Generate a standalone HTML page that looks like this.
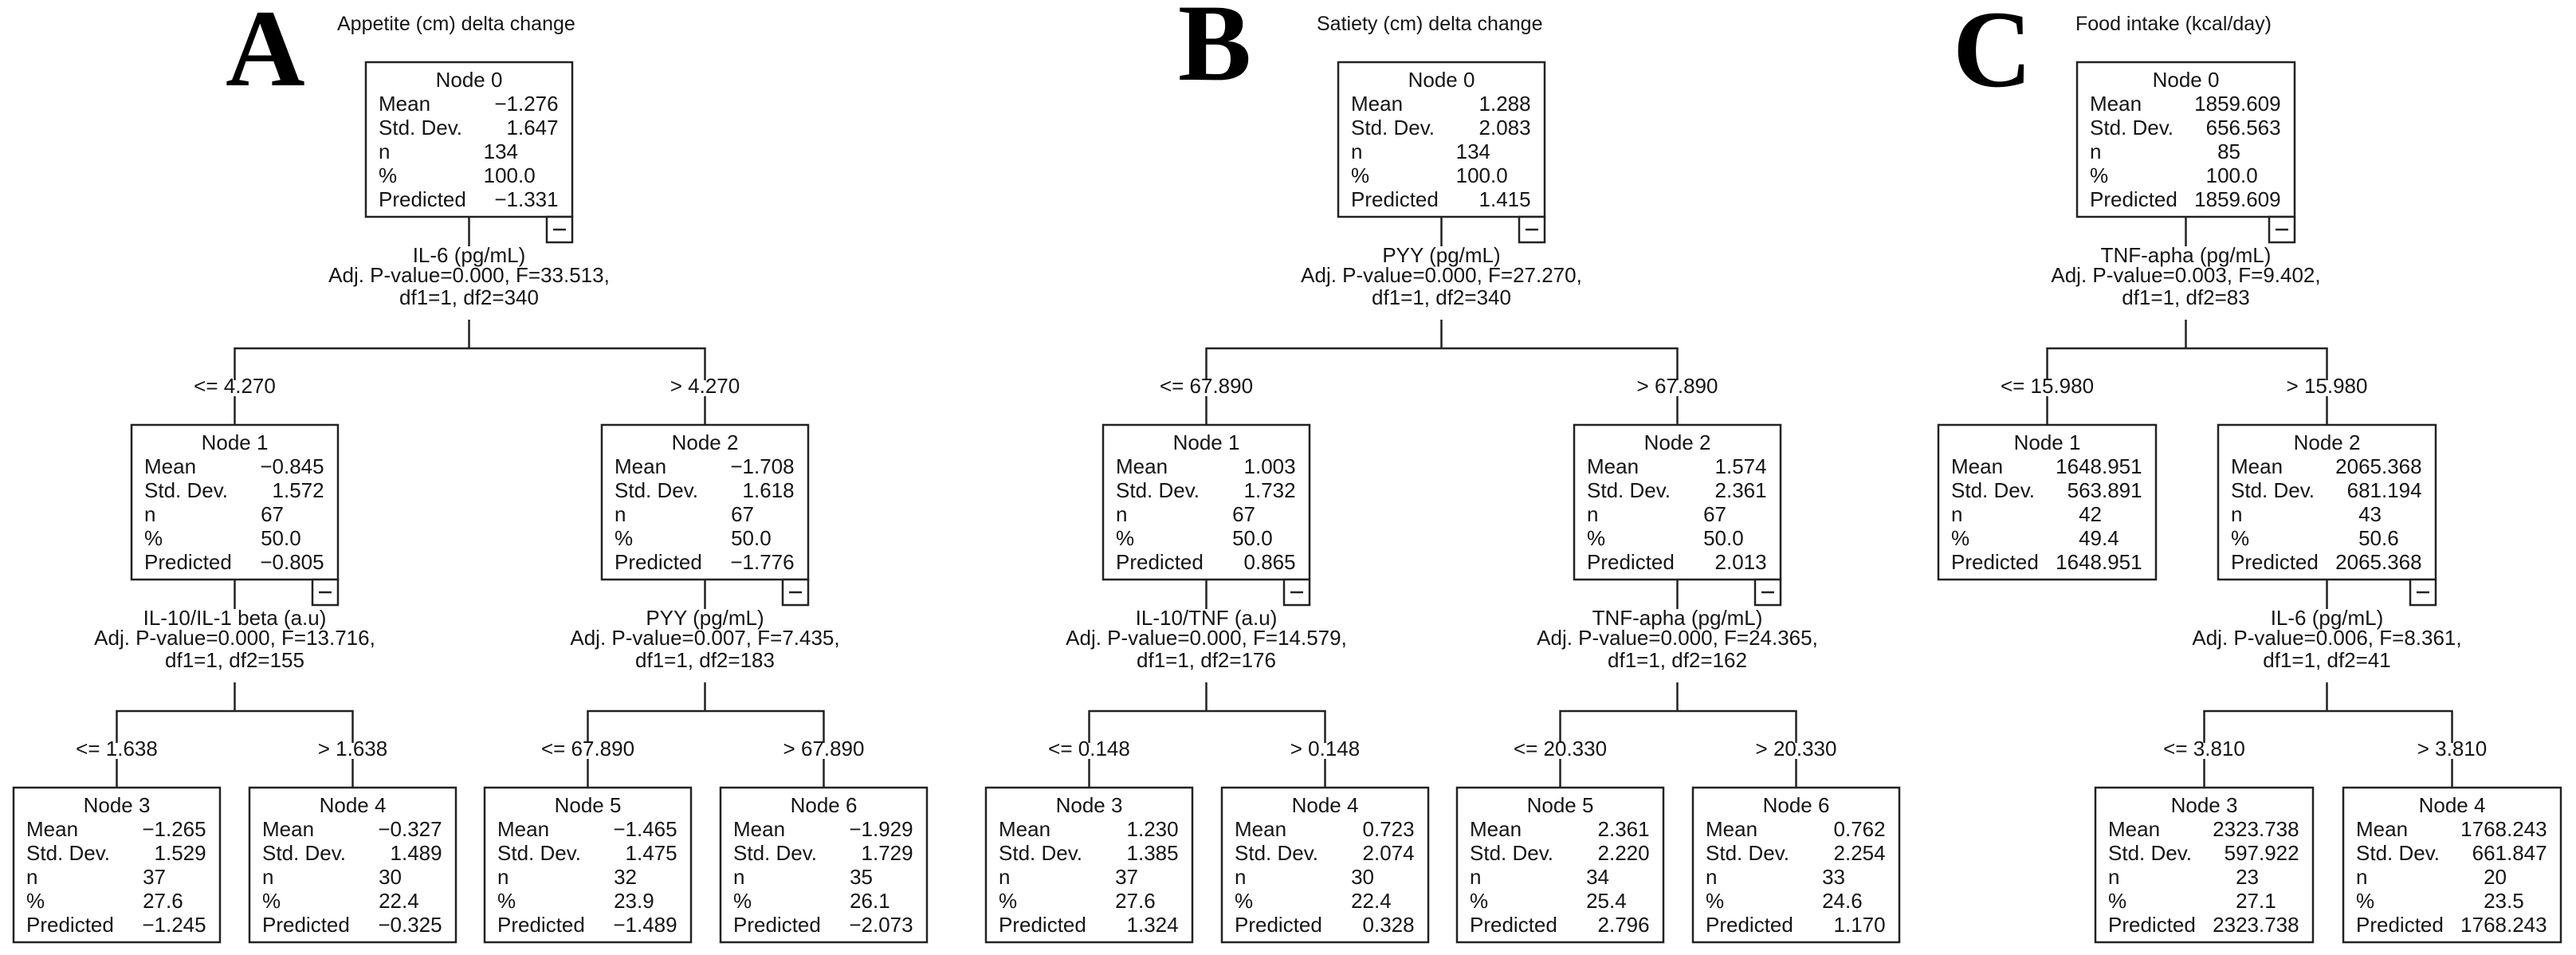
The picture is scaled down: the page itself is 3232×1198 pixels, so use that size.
<!DOCTYPE html>
<html><head><meta charset="utf-8"><style>
html,body{margin:0;padding:0;background:#fff;}
svg{display:block;}
svg text{font-family:"Liberation Sans",sans-serif;font-size:26px;fill:#151515;}
.t{font-size:25px;}
.big{font-family:"Liberation Serif",serif;font-size:138px;font-weight:bold;fill:#000;}
rect{fill:#fff;stroke:#222;stroke-width:2.5;}
path{fill:none;stroke:#222;stroke-width:2.5;}
</style></head><body>
<svg width="3232" height="1198" viewBox="0 0 3232 1198" xmlns="http://www.w3.org/2000/svg">
<rect x="0" y="0" width="3232" height="1198" style="stroke:none;fill:#fff"/>
<text class="big" x="283" y="107">A</text>
<text class="big" x="1478" y="100">B</text>
<text class="big" x="2450" y="108">C</text>
<text class="t" x="423" y="38">Appetite (cm) delta change</text>
<text class="t" x="1652" y="38">Satiety (cm) delta change</text>
<text class="t" x="2604" y="38">Food intake (kcal/day)</text>

<!-- connectors -->
<path d="M588.5 272V309M588.5 401V437M294.5 533V497M294.5 477V437H884.5V477M884.5 497V533"/>
<path d="M294.5 727V764M294.5 856V892M146.5 988V952M146.5 932V892H442.5V932M442.5 952V988"/>
<path d="M884.5 727V764M884.5 856V892M737.5 988V952M737.5 932V892H1033.5V932M1033.5 952V988"/>
<path d="M1808.5 272V309M1808.5 401V437M1513.5 533V497M1513.5 477V437H2104.5V477M2104.5 497V533"/>
<path d="M1513.5 727V764M1513.5 856V892M1366.5 988V952M1366.5 932V892H1662.5V932M1662.5 952V988"/>
<path d="M2104.5 727V764M2104.5 856V892M1957.5 988V952M1957.5 932V892H2253.5V932M2253.5 952V988"/>
<path d="M2742.5 272V309M2742.5 401V437M2568.5 533V497M2568.5 477V437H2919.5V477M2919.5 497V533"/>
<path d="M2919.5 727V764M2919.5 856V892M2765.5 988V952M2765.5 932V892H3076.5V932M3076.5 952V988"/>

<!-- split labels -->
<g text-anchor="middle">
<text x="588.5" y="329">IL-6 (pg/mL)</text><text x="588.5" y="354">Adj. P-value=0.000, F=33.513,</text><text x="588.5" y="382">df1=1, df2=340</text>
<text x="294.5" y="784">IL-10/IL-1 beta (a.u)</text><text x="294.5" y="809">Adj. P-value=0.000, F=13.716,</text><text x="294.5" y="837">df1=1, df2=155</text>
<text x="884.5" y="784">PYY (pg/mL)</text><text x="884.5" y="809">Adj. P-value=0.007, F=7.435,</text><text x="884.5" y="837">df1=1, df2=183</text>
<text x="1808.5" y="329">PYY (pg/mL)</text><text x="1808.5" y="354">Adj. P-value=0.000, F=27.270,</text><text x="1808.5" y="382">df1=1, df2=340</text>
<text x="1513.5" y="784">IL-10/TNF (a.u)</text><text x="1513.5" y="809">Adj. P-value=0.000, F=14.579,</text><text x="1513.5" y="837">df1=1, df2=176</text>
<text x="2104.5" y="784">TNF-apha (pg/mL)</text><text x="2104.5" y="809">Adj. P-value=0.000, F=24.365,</text><text x="2104.5" y="837">df1=1, df2=162</text>
<text x="2742.5" y="329">TNF-apha (pg/mL)</text><text x="2742.5" y="354">Adj. P-value=0.003, F=9.402,</text><text x="2742.5" y="382">df1=1, df2=83</text>
<text x="2919.5" y="784">IL-6 (pg/mL)</text><text x="2919.5" y="809">Adj. P-value=0.006, F=8.361,</text><text x="2919.5" y="837">df1=1, df2=41</text>
<!-- branch labels -->
<text x="294.5" y="493">&lt;= 4.270</text><text x="884.5" y="493">&gt; 4.270</text>
<text x="146.5" y="948">&lt;= 1.638</text><text x="442.5" y="948">&gt; 1.638</text>
<text x="737.5" y="948">&lt;= 67.890</text><text x="1033.5" y="948">&gt; 67.890</text>
<text x="1513.5" y="493">&lt;= 67.890</text><text x="2104.5" y="493">&gt; 67.890</text>
<text x="1366.5" y="948">&lt;= 0.148</text><text x="1662.5" y="948">&gt; 0.148</text>
<text x="1957.5" y="948">&lt;= 20.330</text><text x="2253.5" y="948">&gt; 20.330</text>
<text x="2568.5" y="493">&lt;= 15.980</text><text x="2919.5" y="493">&gt; 15.980</text>
<text x="2765.5" y="948">&lt;= 3.810</text><text x="3076.5" y="948">&gt; 3.810</text>
</g>

<!-- ===== A nodes (w=259, D=191) ===== -->
<g transform="translate(459,78)"><rect width="259" height="194"/><rect x="227" y="194" width="32" height="32"/><path d="M235 210H251"/>
<text x="129.5" y="31" text-anchor="middle">Node 0</text>
<text x="16" y="61">Mean</text><text x="16" y="91">Std. Dev.</text><text x="16" y="121">n</text><text x="16" y="151">%</text><text x="16" y="181">Predicted</text>
<text x="191" y="61" text-anchor="end">−1</text><text x="191" y="61">.276</text>
<text x="191" y="91" text-anchor="end">1</text><text x="191" y="91">.647</text>
<text x="191" y="121" text-anchor="end">134</text>
<text x="191" y="151" text-anchor="end">100</text><text x="191" y="151">.0</text>
<text x="191" y="181" text-anchor="end">−1</text><text x="191" y="181">.331</text></g>

<g transform="translate(165,533)"><rect width="259" height="194"/><rect x="227" y="194" width="32" height="32"/><path d="M235 210H251"/>
<text x="129.5" y="31" text-anchor="middle">Node 1</text>
<text x="16" y="61">Mean</text><text x="16" y="91">Std. Dev.</text><text x="16" y="121">n</text><text x="16" y="151">%</text><text x="16" y="181">Predicted</text>
<text x="191" y="61" text-anchor="end">−0</text><text x="191" y="61">.845</text>
<text x="191" y="91" text-anchor="end">1</text><text x="191" y="91">.572</text>
<text x="191" y="121" text-anchor="end">67</text>
<text x="191" y="151" text-anchor="end">50</text><text x="191" y="151">.0</text>
<text x="191" y="181" text-anchor="end">−0</text><text x="191" y="181">.805</text></g>

<g transform="translate(755,533)"><rect width="259" height="194"/><rect x="227" y="194" width="32" height="32"/><path d="M235 210H251"/>
<text x="129.5" y="31" text-anchor="middle">Node 2</text>
<text x="16" y="61">Mean</text><text x="16" y="91">Std. Dev.</text><text x="16" y="121">n</text><text x="16" y="151">%</text><text x="16" y="181">Predicted</text>
<text x="191" y="61" text-anchor="end">−1</text><text x="191" y="61">.708</text>
<text x="191" y="91" text-anchor="end">1</text><text x="191" y="91">.618</text>
<text x="191" y="121" text-anchor="end">67</text>
<text x="191" y="151" text-anchor="end">50</text><text x="191" y="151">.0</text>
<text x="191" y="181" text-anchor="end">−1</text><text x="191" y="181">.776</text></g>

<g transform="translate(17,988)"><rect width="259" height="194"/>
<text x="129.5" y="31" text-anchor="middle">Node 3</text>
<text x="16" y="61">Mean</text><text x="16" y="91">Std. Dev.</text><text x="16" y="121">n</text><text x="16" y="151">%</text><text x="16" y="181">Predicted</text>
<text x="191" y="61" text-anchor="end">−1</text><text x="191" y="61">.265</text>
<text x="191" y="91" text-anchor="end">1</text><text x="191" y="91">.529</text>
<text x="191" y="121" text-anchor="end">37</text>
<text x="191" y="151" text-anchor="end">27</text><text x="191" y="151">.6</text>
<text x="191" y="181" text-anchor="end">−1</text><text x="191" y="181">.245</text></g>

<g transform="translate(313,988)"><rect width="259" height="194"/>
<text x="129.5" y="31" text-anchor="middle">Node 4</text>
<text x="16" y="61">Mean</text><text x="16" y="91">Std. Dev.</text><text x="16" y="121">n</text><text x="16" y="151">%</text><text x="16" y="181">Predicted</text>
<text x="191" y="61" text-anchor="end">−0</text><text x="191" y="61">.327</text>
<text x="191" y="91" text-anchor="end">1</text><text x="191" y="91">.489</text>
<text x="191" y="121" text-anchor="end">30</text>
<text x="191" y="151" text-anchor="end">22</text><text x="191" y="151">.4</text>
<text x="191" y="181" text-anchor="end">−0</text><text x="191" y="181">.325</text></g>

<g transform="translate(608,988)"><rect width="259" height="194"/>
<text x="129.5" y="31" text-anchor="middle">Node 5</text>
<text x="16" y="61">Mean</text><text x="16" y="91">Std. Dev.</text><text x="16" y="121">n</text><text x="16" y="151">%</text><text x="16" y="181">Predicted</text>
<text x="191" y="61" text-anchor="end">−1</text><text x="191" y="61">.465</text>
<text x="191" y="91" text-anchor="end">1</text><text x="191" y="91">.475</text>
<text x="191" y="121" text-anchor="end">32</text>
<text x="191" y="151" text-anchor="end">23</text><text x="191" y="151">.9</text>
<text x="191" y="181" text-anchor="end">−1</text><text x="191" y="181">.489</text></g>

<g transform="translate(904,988)"><rect width="259" height="194"/>
<text x="129.5" y="31" text-anchor="middle">Node 6</text>
<text x="16" y="61">Mean</text><text x="16" y="91">Std. Dev.</text><text x="16" y="121">n</text><text x="16" y="151">%</text><text x="16" y="181">Predicted</text>
<text x="191" y="61" text-anchor="end">−1</text><text x="191" y="61">.929</text>
<text x="191" y="91" text-anchor="end">1</text><text x="191" y="91">.729</text>
<text x="191" y="121" text-anchor="end">35</text>
<text x="191" y="151" text-anchor="end">26</text><text x="191" y="151">.1</text>
<text x="191" y="181" text-anchor="end">−2</text><text x="191" y="181">.073</text></g>

<!-- ===== B nodes ===== -->
<g transform="translate(1679,78)"><rect width="259" height="194"/><rect x="227" y="194" width="32" height="32"/><path d="M235 210H251"/>
<text x="129.5" y="31" text-anchor="middle">Node 0</text>
<text x="16" y="61">Mean</text><text x="16" y="91">Std. Dev.</text><text x="16" y="121">n</text><text x="16" y="151">%</text><text x="16" y="181">Predicted</text>
<text x="191" y="61" text-anchor="end">1</text><text x="191" y="61">.288</text>
<text x="191" y="91" text-anchor="end">2</text><text x="191" y="91">.083</text>
<text x="191" y="121" text-anchor="end">134</text>
<text x="191" y="151" text-anchor="end">100</text><text x="191" y="151">.0</text>
<text x="191" y="181" text-anchor="end">1</text><text x="191" y="181">.415</text></g>

<g transform="translate(1384,533)"><rect width="259" height="194"/><rect x="227" y="194" width="32" height="32"/><path d="M235 210H251"/>
<text x="129.5" y="31" text-anchor="middle">Node 1</text>
<text x="16" y="61">Mean</text><text x="16" y="91">Std. Dev.</text><text x="16" y="121">n</text><text x="16" y="151">%</text><text x="16" y="181">Predicted</text>
<text x="191" y="61" text-anchor="end">1</text><text x="191" y="61">.003</text>
<text x="191" y="91" text-anchor="end">1</text><text x="191" y="91">.732</text>
<text x="191" y="121" text-anchor="end">67</text>
<text x="191" y="151" text-anchor="end">50</text><text x="191" y="151">.0</text>
<text x="191" y="181" text-anchor="end">0</text><text x="191" y="181">.865</text></g>

<g transform="translate(1975,533)"><rect width="259" height="194"/><rect x="227" y="194" width="32" height="32"/><path d="M235 210H251"/>
<text x="129.5" y="31" text-anchor="middle">Node 2</text>
<text x="16" y="61">Mean</text><text x="16" y="91">Std. Dev.</text><text x="16" y="121">n</text><text x="16" y="151">%</text><text x="16" y="181">Predicted</text>
<text x="191" y="61" text-anchor="end">1</text><text x="191" y="61">.574</text>
<text x="191" y="91" text-anchor="end">2</text><text x="191" y="91">.361</text>
<text x="191" y="121" text-anchor="end">67</text>
<text x="191" y="151" text-anchor="end">50</text><text x="191" y="151">.0</text>
<text x="191" y="181" text-anchor="end">2</text><text x="191" y="181">.013</text></g>

<g transform="translate(1237,988)"><rect width="259" height="194"/>
<text x="129.5" y="31" text-anchor="middle">Node 3</text>
<text x="16" y="61">Mean</text><text x="16" y="91">Std. Dev.</text><text x="16" y="121">n</text><text x="16" y="151">%</text><text x="16" y="181">Predicted</text>
<text x="191" y="61" text-anchor="end">1</text><text x="191" y="61">.230</text>
<text x="191" y="91" text-anchor="end">1</text><text x="191" y="91">.385</text>
<text x="191" y="121" text-anchor="end">37</text>
<text x="191" y="151" text-anchor="end">27</text><text x="191" y="151">.6</text>
<text x="191" y="181" text-anchor="end">1</text><text x="191" y="181">.324</text></g>

<g transform="translate(1533,988)"><rect width="259" height="194"/>
<text x="129.5" y="31" text-anchor="middle">Node 4</text>
<text x="16" y="61">Mean</text><text x="16" y="91">Std. Dev.</text><text x="16" y="121">n</text><text x="16" y="151">%</text><text x="16" y="181">Predicted</text>
<text x="191" y="61" text-anchor="end">0</text><text x="191" y="61">.723</text>
<text x="191" y="91" text-anchor="end">2</text><text x="191" y="91">.074</text>
<text x="191" y="121" text-anchor="end">30</text>
<text x="191" y="151" text-anchor="end">22</text><text x="191" y="151">.4</text>
<text x="191" y="181" text-anchor="end">0</text><text x="191" y="181">.328</text></g>

<g transform="translate(1828,988)"><rect width="259" height="194"/>
<text x="129.5" y="31" text-anchor="middle">Node 5</text>
<text x="16" y="61">Mean</text><text x="16" y="91">Std. Dev.</text><text x="16" y="121">n</text><text x="16" y="151">%</text><text x="16" y="181">Predicted</text>
<text x="191" y="61" text-anchor="end">2</text><text x="191" y="61">.361</text>
<text x="191" y="91" text-anchor="end">2</text><text x="191" y="91">.220</text>
<text x="191" y="121" text-anchor="end">34</text>
<text x="191" y="151" text-anchor="end">25</text><text x="191" y="151">.4</text>
<text x="191" y="181" text-anchor="end">2</text><text x="191" y="181">.796</text></g>

<g transform="translate(2124,988)"><rect width="259" height="194"/>
<text x="129.5" y="31" text-anchor="middle">Node 6</text>
<text x="16" y="61">Mean</text><text x="16" y="91">Std. Dev.</text><text x="16" y="121">n</text><text x="16" y="151">%</text><text x="16" y="181">Predicted</text>
<text x="191" y="61" text-anchor="end">0</text><text x="191" y="61">.762</text>
<text x="191" y="91" text-anchor="end">2</text><text x="191" y="91">.254</text>
<text x="191" y="121" text-anchor="end">33</text>
<text x="191" y="151" text-anchor="end">24</text><text x="191" y="151">.6</text>
<text x="191" y="181" text-anchor="end">1</text><text x="191" y="181">.170</text></g>

<!-- ===== C nodes (w=273, D=205) ===== -->
<g transform="translate(2606,78)"><rect width="273" height="194"/><rect x="241" y="194" width="32" height="32"/><path d="M249 210H265"/>
<text x="136.5" y="31" text-anchor="middle">Node 0</text>
<text x="16" y="61">Mean</text><text x="16" y="91">Std. Dev.</text><text x="16" y="121">n</text><text x="16" y="151">%</text><text x="16" y="181">Predicted</text>
<text x="205" y="61" text-anchor="end">1859</text><text x="205" y="61">.609</text>
<text x="205" y="91" text-anchor="end">656</text><text x="205" y="91">.563</text>
<text x="205" y="121" text-anchor="end">85</text>
<text x="205" y="151" text-anchor="end">100</text><text x="205" y="151">.0</text>
<text x="205" y="181" text-anchor="end">1859</text><text x="205" y="181">.609</text></g>

<g transform="translate(2432,533)"><rect width="273" height="194"/>
<text x="136.5" y="31" text-anchor="middle">Node 1</text>
<text x="16" y="61">Mean</text><text x="16" y="91">Std. Dev.</text><text x="16" y="121">n</text><text x="16" y="151">%</text><text x="16" y="181">Predicted</text>
<text x="205" y="61" text-anchor="end">1648</text><text x="205" y="61">.951</text>
<text x="205" y="91" text-anchor="end">563</text><text x="205" y="91">.891</text>
<text x="205" y="121" text-anchor="end">42</text>
<text x="205" y="151" text-anchor="end">49</text><text x="205" y="151">.4</text>
<text x="205" y="181" text-anchor="end">1648</text><text x="205" y="181">.951</text></g>

<g transform="translate(2783,533)"><rect width="273" height="194"/><rect x="241" y="194" width="32" height="32"/><path d="M249 210H265"/>
<text x="136.5" y="31" text-anchor="middle">Node 2</text>
<text x="16" y="61">Mean</text><text x="16" y="91">Std. Dev.</text><text x="16" y="121">n</text><text x="16" y="151">%</text><text x="16" y="181">Predicted</text>
<text x="205" y="61" text-anchor="end">2065</text><text x="205" y="61">.368</text>
<text x="205" y="91" text-anchor="end">681</text><text x="205" y="91">.194</text>
<text x="205" y="121" text-anchor="end">43</text>
<text x="205" y="151" text-anchor="end">50</text><text x="205" y="151">.6</text>
<text x="205" y="181" text-anchor="end">2065</text><text x="205" y="181">.368</text></g>

<g transform="translate(2629,988)"><rect width="273" height="194"/>
<text x="136.5" y="31" text-anchor="middle">Node 3</text>
<text x="16" y="61">Mean</text><text x="16" y="91">Std. Dev.</text><text x="16" y="121">n</text><text x="16" y="151">%</text><text x="16" y="181">Predicted</text>
<text x="205" y="61" text-anchor="end">2323</text><text x="205" y="61">.738</text>
<text x="205" y="91" text-anchor="end">597</text><text x="205" y="91">.922</text>
<text x="205" y="121" text-anchor="end">23</text>
<text x="205" y="151" text-anchor="end">27</text><text x="205" y="151">.1</text>
<text x="205" y="181" text-anchor="end">2323</text><text x="205" y="181">.738</text></g>

<g transform="translate(2940,988)"><rect width="273" height="194"/>
<text x="136.5" y="31" text-anchor="middle">Node 4</text>
<text x="16" y="61">Mean</text><text x="16" y="91">Std. Dev.</text><text x="16" y="121">n</text><text x="16" y="151">%</text><text x="16" y="181">Predicted</text>
<text x="205" y="61" text-anchor="end">1768</text><text x="205" y="61">.243</text>
<text x="205" y="91" text-anchor="end">661</text><text x="205" y="91">.847</text>
<text x="205" y="121" text-anchor="end">20</text>
<text x="205" y="151" text-anchor="end">23</text><text x="205" y="151">.5</text>
<text x="205" y="181" text-anchor="end">1768</text><text x="205" y="181">.243</text></g>
</svg>
</body></html>
